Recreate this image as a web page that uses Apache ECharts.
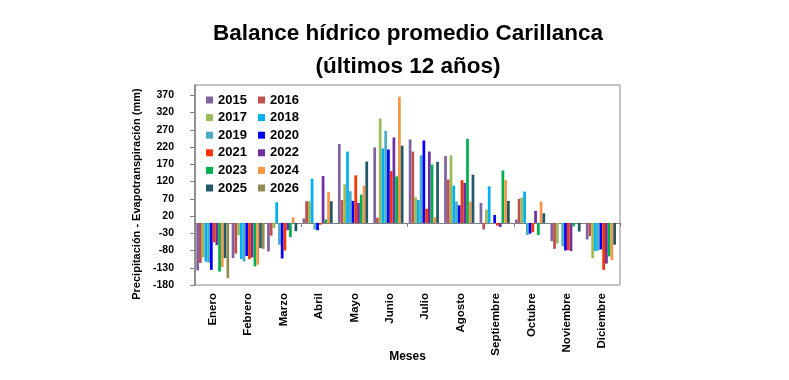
<!DOCTYPE html>
<html>
<head>
<meta charset="utf-8">
<script src="https://cdn.jsdelivr.net/npm/echarts@6/dist/echarts.min.js"></script>
<style>
html,body{margin:0;padding:0;background:#fff;}
#chart{width:789px;height:380px;}
</style>
</head>
<body>
<div id="chart"></div>
<script>
const months = ['Enero','Febrero','Marzo','Abril','Mayo','Junio','Julio','Agosto','Septiembre','Octubre','Noviembre','Diciembre'];
const years = ['2015','2016','2017','2018','2019','2020','2021','2022','2023','2024','2025','2026'];
const v2015 = [-138, -102, -83, 13, 229, 219, 242, 194, 58, 10, -53, -48];
const v2016 = [-116, -89, -37, 63, 66, 15, 207, 126, -19, 70, -75, -38];
const v2017 = [-100, -36, -15, 63, 112, 303, 74, 196, 39, 74, -60, -102];
const v2018 = [-112, -105, 60, 128, 207, 216, 66, 108, 106, 91, 0, -81];
const v2019 = [-115, -112, -63, -19, 92, 267, 196, 62, 0, -35, -68, -80];
const v2020 = [-136, -96, -103, -21, 64, 213, 239, 51, 23, -31, -80, -77];
const v2021 = [-56, -105, -80, -5, 138, 150, 41, 124, -8, -27, -79, -136];
const v2022 = [-64, -100, -21, 136, 58, 248, 207, 116, -12, 35, -82, -118];
const v2023 = [-141, -126, -41, 10, 82, 135, 169, 244, 152, -35, -10, -97];
const v2024 = [-128, -121, 16, 89, 108, 366, 16, 62, 124, 62, 0, -108];
const v2025 = [-102, -73, -24, 63, 178, 224, 177, 140, 64, 28, -25, -63];
const v2026 = [-160, -75, null, null, null, null, null, null, null, null, null, null];
const values = [v2015, v2016, v2017, v2018, v2019, v2020, v2021, v2022, v2023, v2024, v2025, v2026];
const colors = ['#8064A2','#C0504D','#9BBB59','#00B0F0','#4BACC6','#0000FF','#FF3300','#7030A0','#00B050','#F79646','#215968','#948A54'];
const yTicks = { min: -180, max: 400, interval: 50 };

const FONT = "'Liberation Sans', Arial, sans-serif";
const chart = echarts.init(document.getElementById('chart'));
const legendText = { fontFamily: FONT, fontWeight: 'bold', fontSize: 13, color: '#000', lineHeight: 13 };
chart.setOption({
  backgroundColor: '#fff',
  animation: false,
  color: colors,
  title: {
    text: 'Balance hídrico promedio Carillanca\n(últimos 12 años)',
    left: 403, textAlign: 'center', top: 12,
    textStyle: { fontFamily: FONT, fontWeight: 'bold', fontSize: 22.5, lineHeight: 33, color: '#000' }
  },
  legend: [
    { data: years.filter((y, i) => i % 2 === 0), orient: 'vertical', left: 206, top: 93.5, itemWidth: 7, itemHeight: 7, itemGap: 4.6, icon: 'rect', selectedMode: false, textStyle: legendText, padding: 0 },
    { data: years.filter((y, i) => i % 2 === 1), orient: 'vertical', left: 258, top: 93.5, itemWidth: 7, itemHeight: 7, itemGap: 4.6, icon: 'rect', selectedMode: false, textStyle: legendText, padding: 0 }
  ],
  grid: { left: 195, right: 169, top: 85, bottom: 95, show: true, borderColor: '#888', borderWidth: 1, containLabel: false },
  xAxis: [
    {
      type: 'category', data: months, position: 'bottom',
      axisLine: { show: false, onZero: false }, axisTick: { show: false },
      axisLabel: { rotate: 90, margin: 8, interval: 0, fontFamily: FONT, fontWeight: 'bold', fontSize: 11.5, color: '#000' },
      name: 'Meses', nameLocation: 'middle', nameGap: 66, nameMoveOverlap: false,
      nameTextStyle: { fontFamily: FONT, fontWeight: 'bold', fontSize: 12, color: '#000' }
    },
    {
      type: 'category', data: months, position: 'top',
      axisLine: { show: true, onZero: true, lineStyle: { color: '#808080', width: 1 } },
      axisTick: { show: true, inside: true, length: 4, lineStyle: { color: '#808080' } },
      axisLabel: { show: false }
    }
  ],
  yAxis: {
    type: 'value', min: yTicks.min, max: yTicks.max, interval: yTicks.interval,
    axisLine: { show: true, lineStyle: { color: '#808080', width: 1.5 } },
    axisTick: { show: true, length: 5, lineStyle: { color: '#808080' } },
    splitLine: { show: false },
    axisLabel: { showMaxLabel: false, margin: 21, fontFamily: FONT, fontWeight: 'bold', fontSize: 10.5, color: '#000' },
    name: 'Precipitación - Evapotranspiración (mm)', nameLocation: 'middle', nameGap: 46,
    nameTextStyle: { fontFamily: FONT, fontWeight: 'bold', fontSize: 11, color: '#000', padding: [0, 18, 0, 0] }
  },
  series: years.map((y, i) => ({
    name: y, type: 'bar', xAxisIndex: 0, data: values[i],
    barGap: '0%', barCategoryGap: '7%',
    itemStyle: { color: colors[i] }
  }))
});
</script>
</body>
</html>
